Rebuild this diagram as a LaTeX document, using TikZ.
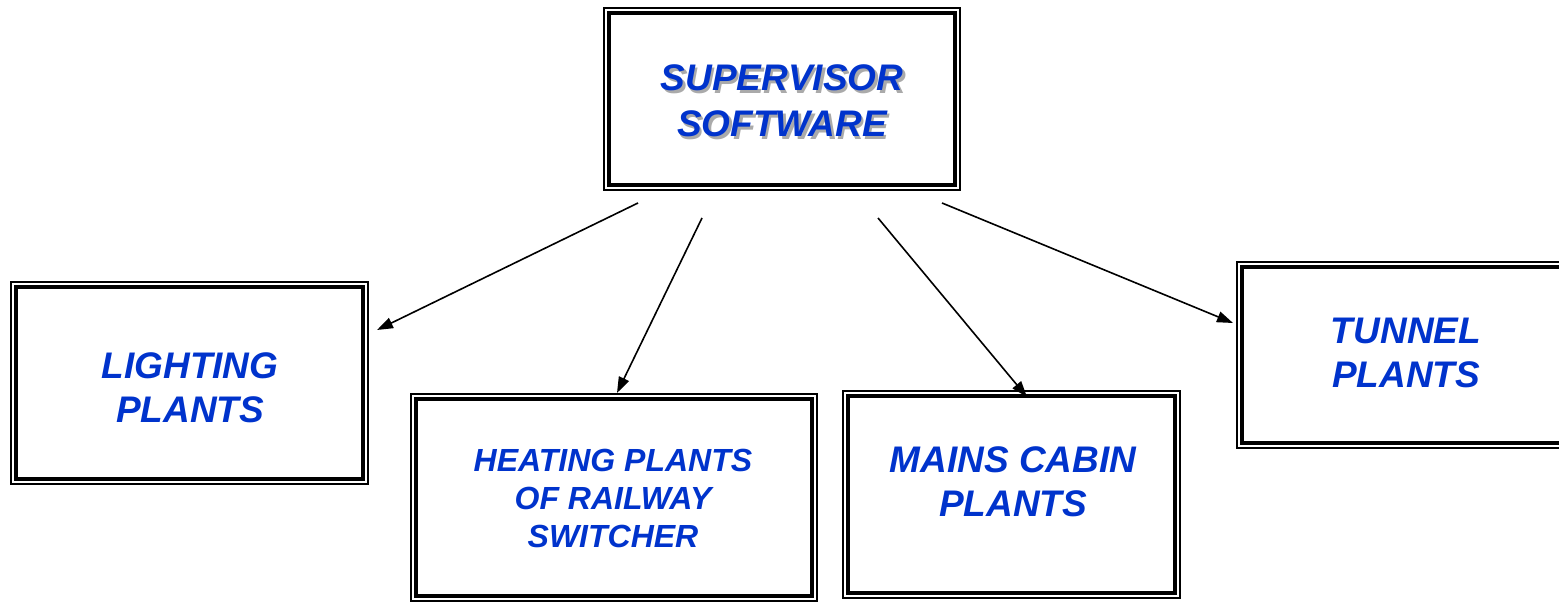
\documentclass[tikz,border=0pt]{standalone}
\usepackage{fontspec}
\setmainfont{Liberation Sans}
\usetikzlibrary{arrows.meta}
\definecolor{textblue}{RGB}{0,51,204}
\definecolor{shadowgray}{RGB}{170,170,170}
\newcommand{\bigfont}{\fontsize{18.5pt}{22pt}\selectfont\bfseries\itshape}
\newcommand{\supfont}{\fontsize{18.5pt}{23pt}\selectfont\bfseries\itshape}
\newcommand{\smallerfont}{\fontsize{16pt}{19pt}\selectfont\bfseries\itshape}
\tikzset{
  box/.style={draw, line width=1pt, inner sep=0pt, outer sep=0pt},
  innerline/.style={line width=1.6pt},
  lbl/.style={text=textblue, font=\bigfont, align=center, inner sep=0pt},
  conn/.style={line width=0.8pt, -{Triangle[length=8pt,width=5.5pt]}}
}
\begin{document}
\begin{tikzpicture}[x=0.5pt,y=-0.5pt]
\useasboundingbox (0,0) rectangle (1559,603);
% boxes
\node[box, minimum width=178pt, minimum height=91pt] (supbox) at (782,99) {};
\node[box, minimum width=178.5pt, minimum height=101pt] (lightbox) at (189.5,383) {};
\node[box, minimum width=203pt, minimum height=103.5pt] (heatbox) at (614,497.5) {};
\node[box, minimum width=168.5pt, minimum height=103.5pt] (mainsbox) at (1011.5,494.5) {};
\node[box, minimum width=171.5pt, minimum height=93pt] (tunnelbox) at (1408.5,355) {};
\foreach \b in {supbox,lightbox,heatbox,mainsbox,tunnelbox}{
  \draw[innerline] ([shift={(2.5pt,-2.5pt)}]\b.north west) rectangle ([shift={(-2.5pt,2.5pt)}]\b.south east);
}
% labels
\node[lbl, font=\supfont, text=shadowgray] (supshadow) at (784.5,103.5) {SUPERVISOR\\SOFTWARE};
\node[lbl, font=\supfont] (sup) at (782,101) {SUPERVISOR\\SOFTWARE};
\node[lbl] (light) at (190,388) {LIGHTING\\PLANTS};
\node[lbl, font=\smallerfont] (heat) at (613,498) {HEATING PLANTS\\OF RAILWAY\\SWITCHER};
\node[lbl] (mains) at (1013,482) {MAINS CABIN\\PLANTS};
\node[lbl] (tunnel) at (1406,353) {TUNNEL\\PLANTS};
% connector ends
\coordinate (s1) at (638,203);
\coordinate (e1) at (377,330);
\coordinate (s2) at (702,218);
\coordinate (e2) at (617,393);
\coordinate (s3) at (878,218);
\coordinate (e3) at (1027,397);
\coordinate (s4) at (942,203);
\coordinate (e4) at (1233,323);
\draw[conn] (s1) -- (e1);
\draw[conn] (s2) -- (e2);
\draw[conn] (s3) -- (e3);
\draw[conn] (s4) -- (e4);
\end{tikzpicture}
\end{document}
